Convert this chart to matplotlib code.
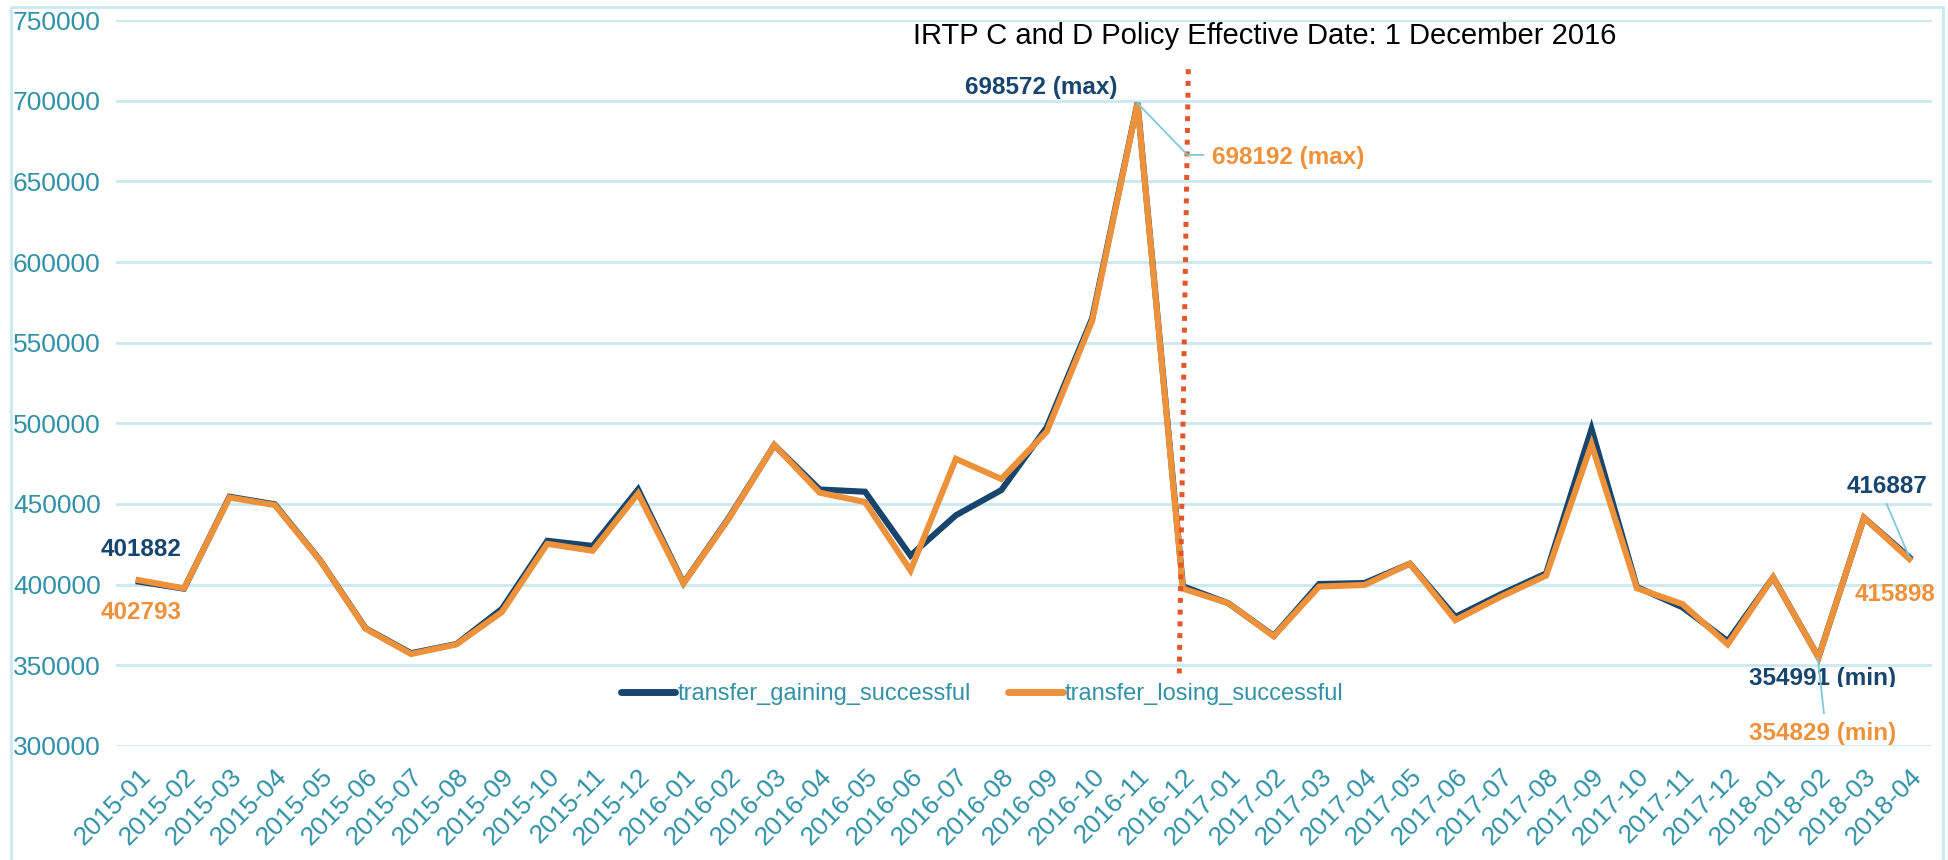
import matplotlib.pyplot as plt
import matplotlib.transforms as mtransforms
from matplotlib.patches import Rectangle

plt.rcParams['font.family'] = ['Liberation Sans', 'DejaVu Sans']

months = ['2015-01', '2015-02', '2015-03', '2015-04', '2015-05', '2015-06', '2015-07', '2015-08',
          '2015-09', '2015-10', '2015-11', '2015-12', '2016-01', '2016-02', '2016-03', '2016-04',
          '2016-05', '2016-06', '2016-07', '2016-08', '2016-09', '2016-10', '2016-11', '2016-12',
          '2017-01', '2017-02', '2017-03', '2017-04', '2017-05', '2017-06', '2017-07', '2017-08',
          '2017-09', '2017-10', '2017-11', '2017-12', '2018-01', '2018-02', '2018-03', '2018-04']

gaining = [401882, 397500, 454500, 449800, 415000, 372900, 357500, 363200, 385000, 427200,
           424000, 459000, 401000, 441500, 486500, 459000, 457600, 418000, 443000, 458600,
           497500, 565000, 698572, 399000, 388500, 368300, 400400, 401000, 413000, 380000,
           394000, 407000, 496500, 398500, 386000, 365000, 404500, 354991, 441500, 416887]

losing = [402793, 397700, 454000, 449300, 414800, 372700, 357000, 363000, 383000, 425300,
          421000, 456500, 400800, 441000, 486500, 457000, 451200, 408800, 478000, 465500,
          494800, 563500, 698192, 397500, 388500, 368000, 398800, 399800, 413000, 378000,
          392500, 405600, 487000, 397800, 388000, 363000, 404500, 354829, 441500, 415898]

policy_title = 'IRTP C and D Policy Effective Date: 1 December 2016'

navy = '#17456E'
orange = '#ED913A'
teal = '#3291A6'
grid_c = '#CBE8F0'
leader_c = '#7EC8D8'

fig = plt.figure(figsize=(19.49, 8.6), dpi=100)
ax = fig.add_axes([0.0595, 0.1326, 0.9318, 0.8441])

x = list(range(len(months)))
ax.plot(x, gaining, color=navy, lw=4.4, solid_joinstyle='miter', label='transfer_gaining_successful', zorder=3)
ax.plot(x, losing, color=orange, lw=4.4, solid_joinstyle='miter', label='transfer_losing_successful', zorder=4)

ax.set_xlim(-0.5, len(months) - 0.5)
ax.set_ylim(300000, 750000)
ax.set_yticks(range(300000, 750001, 50000))
ax.grid(axis='y', color=grid_c, lw=2)
ax.set_axisbelow(True)
for s in ax.spines.values():
    s.set_visible(False)

ax.set_xticks(x)
ax.set_xticklabels(months, rotation=45, ha='right', va='top', rotation_mode='anchor')
ax.tick_params(axis='both', length=0, labelsize=19, labelcolor=teal)
ax.tick_params(axis='y', pad=11)
ax.tick_params(axis='x', pad=13)

# policy date marker
ax.plot([22.92, 23.12], [345000, 721000], color='#E0582A', lw=3.6,
        linestyle=(0, (1, 1.35)), dash_capstyle='butt', zorder=5)
ax.text(24.8, 740000, policy_title, fontsize=21, color='black', ha='center', va='center')

# data labels
bold = dict(fontsize=17.5, fontweight='bold', va='center')
ax.text(0.05, 422000, '401882', color=navy, ha='center', **bold)
ax.text(0.05, 383000, '402793', color=orange, ha='center', **bold)
ax.text(21.56, 708000, '698572 (max)', color=navy, ha='right', **bold)
ax.text(23.65, 664600, '698192 (max)', color=orange, ha='left', **bold)
ax.text(38.52, 460700, '416887', color=navy, ha='center', **bold)
ax.text(38.68, 394200, '415898', color=orange, ha='center', **bold)
t_min = ax.text(37.08, 342000, '354991 (min)', color=navy, ha='center', **bold)
ax.text(37.08, 308000, '354829 (min)', color=orange, ha='center', **bold)

# the orange min label hides the lower part of the navy one
clip = mtransforms.TransformedBbox(mtransforms.Bbox([[35.5, 336800], [39.5, 360000]]), ax.transData)
t_min.set_clip_box(clip)
t_min.set_clip_on(True)

ax.plot([22, 23.1, 23.45], [698400, 666400, 666400], color=leader_c, lw=1.3, zorder=6)
ax.plot([38.5, 39], [450000, 417000], color=leader_c, lw=1.3, zorder=6)
ax.plot([36.98, 37.12], [354500, 320400], color=leader_c, lw=1.3, zorder=6)

leg = ax.legend(loc='center', bbox_to_anchor=(0.477, 0.0716), ncol=2, frameon=False,
                fontsize=17, handlelength=2.3, handletextpad=0.1, columnspacing=1.6)
for t in leg.get_texts():
    t.set_color(teal)
for h in leg.get_lines():
    h.set_linewidth(5)
    h.set_solid_capstyle('round')

fig.patches.append(Rectangle((11 / 1949, -0.01), 1932 / 1949, 1 - 7 / 860 + 0.01,
                             transform=fig.transFigure, fill=False, edgecolor=grid_c, lw=2))

fig.savefig('out.png', dpi=100)
